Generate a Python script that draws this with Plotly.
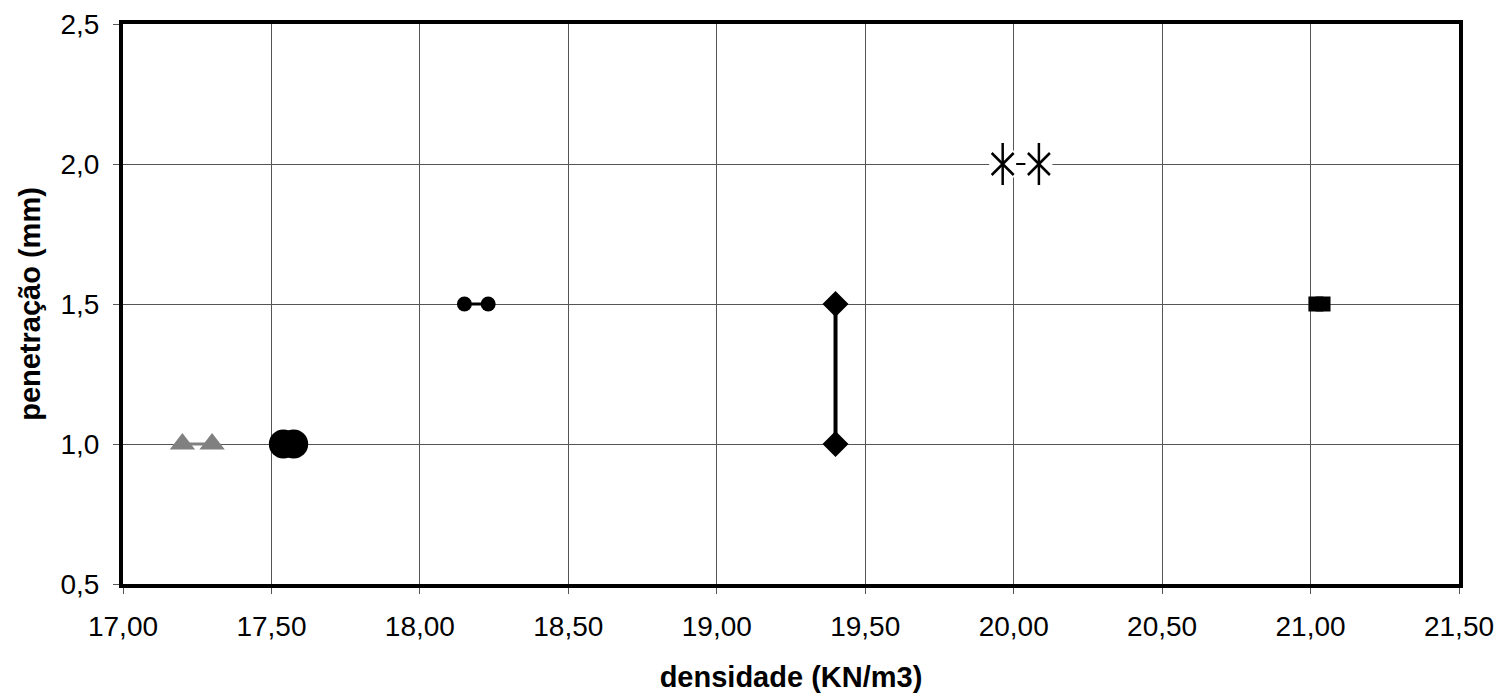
import plotly.graph_objects as go

# Data (densidade KN/m3 vs penetração mm)
tri_x = [17.20, 17.30]
tri_y = [1.0, 1.0]
big_circ_x = [17.54, 17.575]
big_circ_y = [1.0, 1.0]
small_circ_x = [18.15, 18.23]
small_circ_y = [1.5, 1.5]
diam_x = [19.40, 19.40]
diam_y = [1.5, 1.0]
star_x = [19.963, 20.085]
star_y = [2.0, 2.0]
sq_x = [21.018, 21.042]
sq_y = [1.5, 1.5]

x_ticks = [17.0, 17.5, 18.0, 18.5, 19.0, 19.5, 20.0, 20.5, 21.0, 21.5]
y_ticks = [0.5, 1.0, 1.5, 2.0, 2.5]

FONT = 'Liberation Sans, Arial, sans-serif'

fig = go.Figure()

# gray triangles
fig.add_trace(go.Scatter(x=tri_x, y=tri_y, mode='lines+markers',
                         line=dict(color='#808080', width=3),
                         marker=dict(symbol='triangle-up', size=22, color='#808080')))
# big black circles
fig.add_trace(go.Scatter(x=big_circ_x, y=big_circ_y, mode='lines+markers',
                         line=dict(color='black', width=3),
                         marker=dict(symbol='circle', size=29, color='black')))
# small black circles
fig.add_trace(go.Scatter(x=small_circ_x, y=small_circ_y, mode='lines+markers',
                         line=dict(color='black', width=3),
                         marker=dict(symbol='circle', size=15, color='black')))
# diamonds joined by a thick line
fig.add_trace(go.Scatter(x=diam_x, y=diam_y, mode='lines+markers',
                         line=dict(color='black', width=4),
                         marker=dict(symbol='diamond', size=20, color='black')))
# asterisks: line, white box behind the marker, then the asterisk itself
fig.add_trace(go.Scatter(x=star_x, y=star_y, mode='lines',
                         line=dict(color='black', width=2)))
fig.add_trace(go.Scatter(x=star_x, y=star_y, mode='markers',
                         marker=dict(symbol='square', size=27, color='white')))
fig.add_trace(go.Scatter(x=star_x, y=star_y, mode='markers',
                         marker=dict(symbol='x-thin-open', size=22, color='black',
                                     line=dict(color='black', width=2.5))))
fig.add_trace(go.Scatter(x=star_x, y=star_y, mode='markers',
                         marker=dict(symbol='line-ns-open', size=30, color='black',
                                     line=dict(color='black', width=2.5))))
# squares
fig.add_trace(go.Scatter(x=sq_x, y=sq_y, mode='lines+markers',
                         line=dict(color='black', width=3),
                         marker=dict(symbol='square', size=15, color='black')))

axis_common = dict(showgrid=True, gridcolor='#555555', gridwidth=1,
                   showline=True, linecolor='black', linewidth=4, mirror=True,
                   ticks='outside', ticklen=6, tickcolor='#555555',
                   tickfont=dict(family=FONT, size=28, color='black'),
                   zeroline=False, automargin=False)

fig.update_layout(
    width=1495, height=688,
    showlegend=False,
    plot_bgcolor='white', paper_bgcolor='white',
    separators=',.',
    margin=dict(l=115, r=44, t=16, b=112),
    font=dict(family=FONT, color='black'),
    xaxis=dict(range=[17.0, 21.5], tickvals=x_ticks, tickformat='.2f',
               ticklabelstandoff=8,
               title=dict(text='<b>densidade (KN/m3)</b>', standoff=27,
                          font=dict(family=FONT, size=29)),
               **axis_common),
    yaxis=dict(range=[0.5, 2.5], tickvals=y_ticks, tickformat='.1f',
               ticklabelstandoff=8,
               title=dict(text='<b>penetração (mm)</b>', standoff=12,
                          font=dict(family=FONT, size=29)),
               **axis_common),
)

fig.write_html("out.html")
